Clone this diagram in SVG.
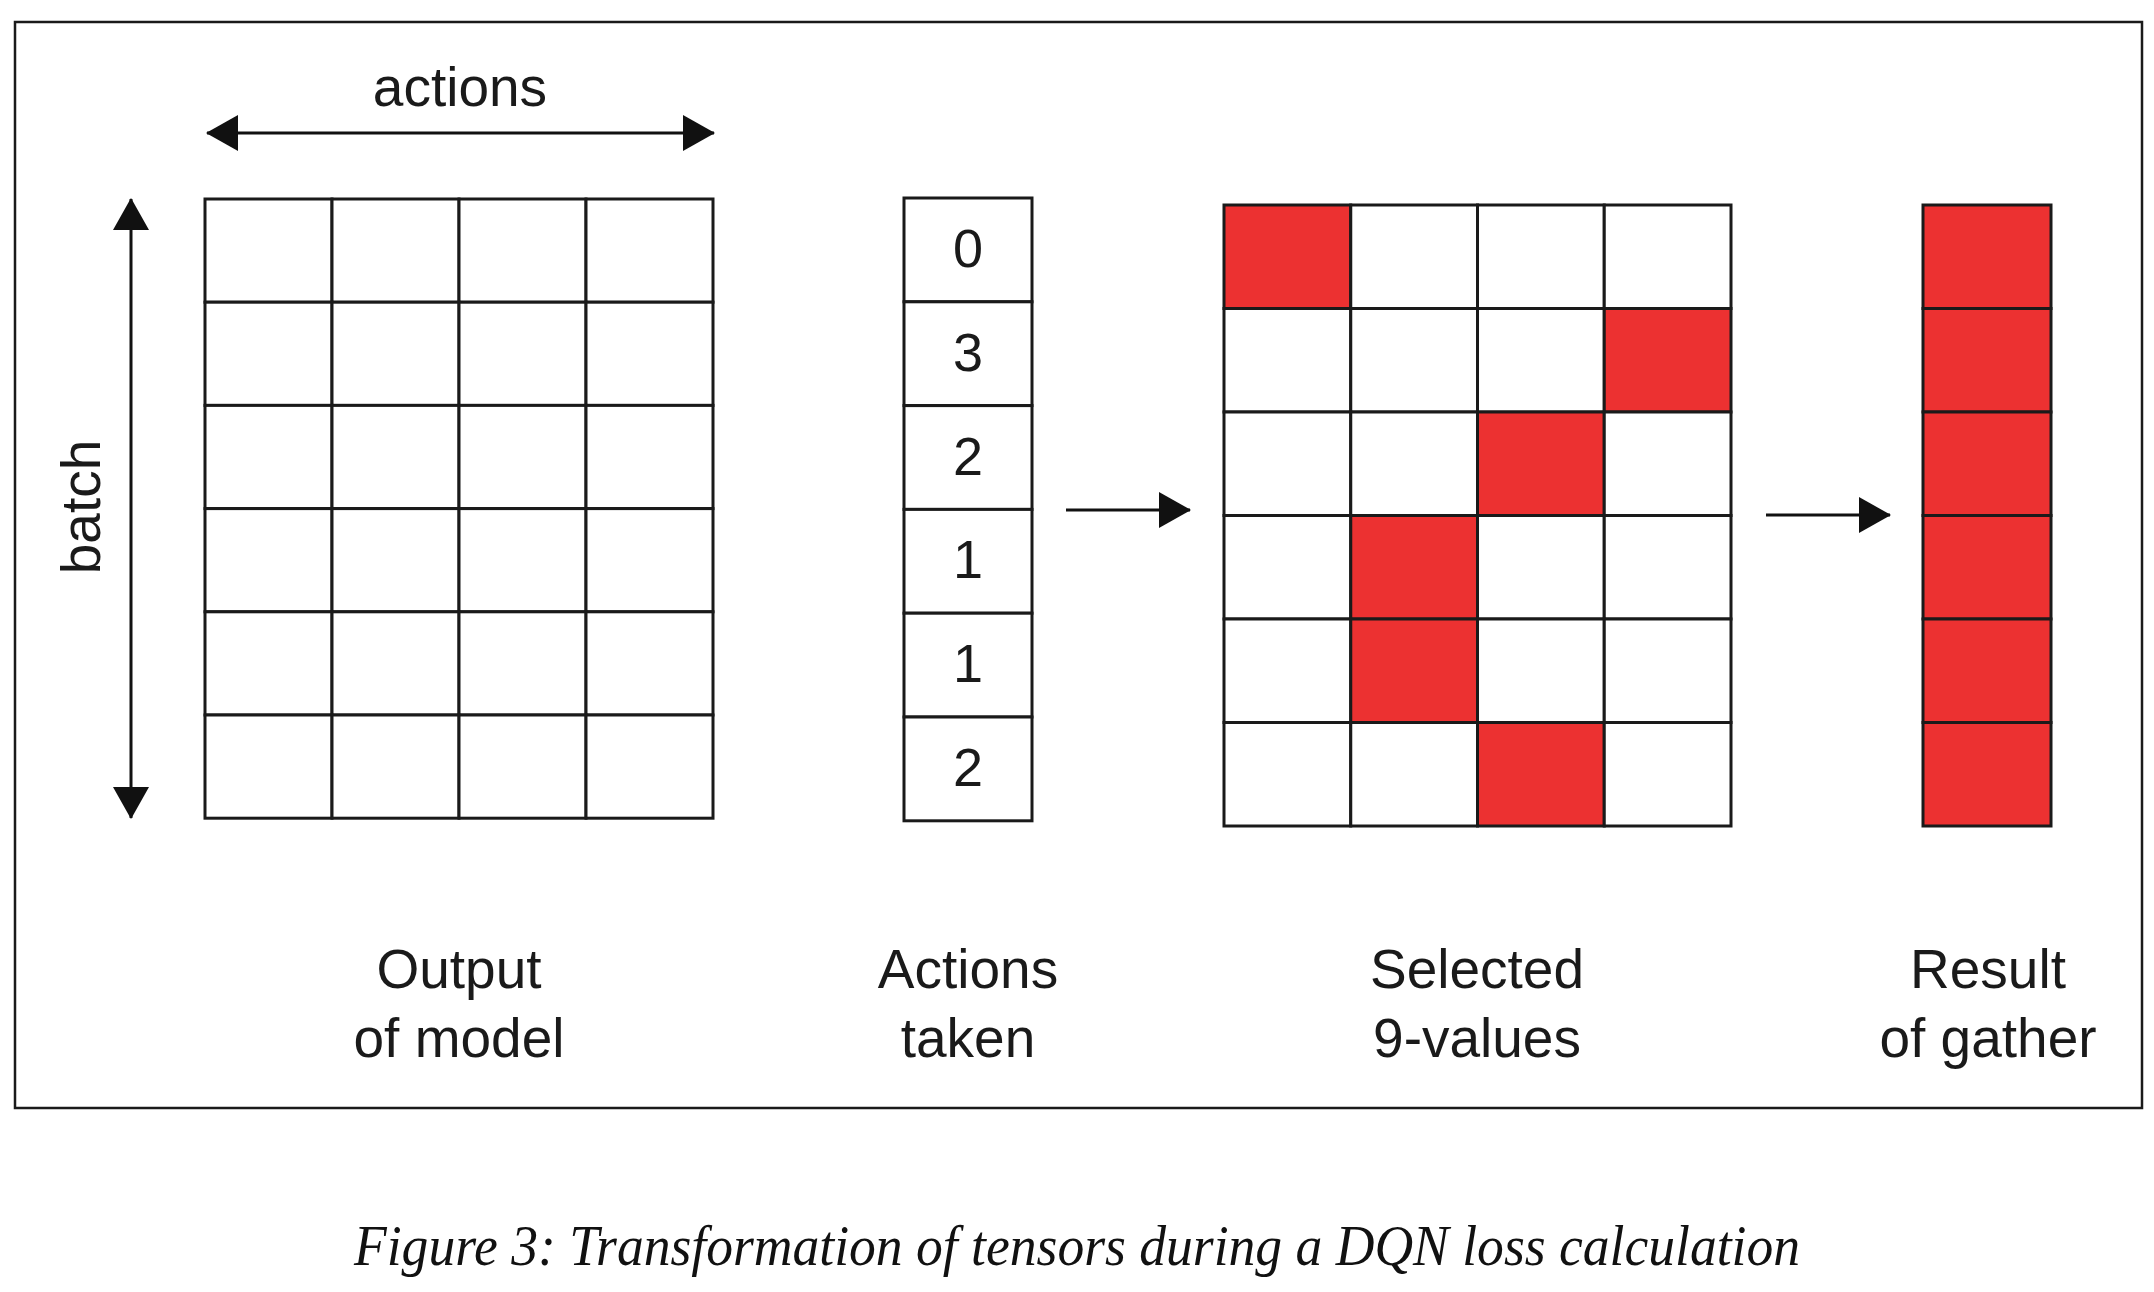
<svg xmlns="http://www.w3.org/2000/svg" width="2154" height="1292" viewBox="0 0 2154 1292">
<defs>
<style>
.cell{fill:#ffffff;stroke:#1a1a1a;stroke-width:3}
.red{fill:#ec3131;stroke:#1a1a1a;stroke-width:3}
.lbl{font-family:"Liberation Sans",Arial,sans-serif;font-size:55px;fill:#1a1a1a;text-anchor:middle}
.dig{font-family:"Liberation Sans",Arial,sans-serif;font-size:54px;fill:#1a1a1a;text-anchor:middle}
.conn{stroke:#111;stroke-width:3;fill:none}
</style>
<marker id="ah" markerUnits="userSpaceOnUse" markerWidth="32" markerHeight="36" viewBox="0 0 32 36" refX="31" refY="18" orient="auto-start-reverse">
<path d="M0,0 L32,18 L0,36 Z" fill="#111"/>
</marker>
</defs>
<rect width="2154" height="1292" fill="#ffffff"/>
<rect x="15" y="22" width="2127" height="1086" fill="none" stroke="#1a1a1a" stroke-width="2.5"/>

<g id="connectors">
<line class="conn" x1="207" y1="133" x2="714" y2="133" marker-start="url(#ah)" marker-end="url(#ah)"/>
<line class="conn" x1="131" y1="199" x2="131" y2="818" marker-start="url(#ah)" marker-end="url(#ah)"/>
<line class="conn" x1="1066" y1="510" x2="1190" y2="510" marker-end="url(#ah)"/>
<line class="conn" x1="1766" y1="515" x2="1890" y2="515" marker-end="url(#ah)"/>
</g>

<g id="axis-labels">
<text class="lbl" x="460" y="106">actions</text>
<text class="lbl" transform="translate(100,507) rotate(-90)" x="0" y="0">batch</text>
</g>

<g id="output-of-model">
<g>
<rect class="cell" x="205" y="199" width="127" height="103.2"/><rect class="cell" x="332" y="199" width="127" height="103.2"/><rect class="cell" x="459" y="199" width="127" height="103.2"/><rect class="cell" x="586" y="199" width="127" height="103.2"/>
<rect class="cell" x="205" y="302.2" width="127" height="103.2"/><rect class="cell" x="332" y="302.2" width="127" height="103.2"/><rect class="cell" x="459" y="302.2" width="127" height="103.2"/><rect class="cell" x="586" y="302.2" width="127" height="103.2"/>
<rect class="cell" x="205" y="405.4" width="127" height="103.2"/><rect class="cell" x="332" y="405.4" width="127" height="103.2"/><rect class="cell" x="459" y="405.4" width="127" height="103.2"/><rect class="cell" x="586" y="405.4" width="127" height="103.2"/>
<rect class="cell" x="205" y="508.6" width="127" height="103.2"/><rect class="cell" x="332" y="508.6" width="127" height="103.2"/><rect class="cell" x="459" y="508.6" width="127" height="103.2"/><rect class="cell" x="586" y="508.6" width="127" height="103.2"/>
<rect class="cell" x="205" y="611.8" width="127" height="103.2"/><rect class="cell" x="332" y="611.8" width="127" height="103.2"/><rect class="cell" x="459" y="611.8" width="127" height="103.2"/><rect class="cell" x="586" y="611.8" width="127" height="103.2"/>
<rect class="cell" x="205" y="715" width="127" height="103.2"/><rect class="cell" x="332" y="715" width="127" height="103.2"/><rect class="cell" x="459" y="715" width="127" height="103.2"/><rect class="cell" x="586" y="715" width="127" height="103.2"/>
</g>
<text class="lbl" x="459" y="988">Output</text>
<text class="lbl" x="459" y="1057">of model</text>
</g>

<g id="actions-taken">
<rect class="cell" x="904" y="198" width="128" height="103.8"/>
<rect class="cell" x="904" y="301.8" width="128" height="103.8"/>
<rect class="cell" x="904" y="405.6" width="128" height="103.8"/>
<rect class="cell" x="904" y="509.4" width="128" height="103.8"/>
<rect class="cell" x="904" y="613.2" width="128" height="103.8"/>
<rect class="cell" x="904" y="717" width="128" height="103.8"/>
<text class="dig" x="968" y="267">0</text>
<text class="dig" x="968" y="371">3</text>
<text class="dig" x="968" y="475">2</text>
<text class="dig" x="968" y="578">1</text>
<text class="dig" x="968" y="682">1</text>
<text class="dig" x="968" y="786">2</text>
<text class="lbl" x="968" y="988">Actions</text>
<text class="lbl" x="968" y="1057">taken</text>
</g>

<g id="selected-q-values">
<rect class="red" x="1224" y="205" width="126.75" height="103.5"/><rect class="cell" x="1350.75" y="205" width="126.75" height="103.5"/><rect class="cell" x="1477.5" y="205" width="126.75" height="103.5"/><rect class="cell" x="1604.25" y="205" width="126.75" height="103.5"/>
<rect class="cell" x="1224" y="308.5" width="126.75" height="103.5"/><rect class="cell" x="1350.75" y="308.5" width="126.75" height="103.5"/><rect class="cell" x="1477.5" y="308.5" width="126.75" height="103.5"/><rect class="red" x="1604.25" y="308.5" width="126.75" height="103.5"/>
<rect class="cell" x="1224" y="412" width="126.75" height="103.5"/><rect class="cell" x="1350.75" y="412" width="126.75" height="103.5"/><rect class="red" x="1477.5" y="412" width="126.75" height="103.5"/><rect class="cell" x="1604.25" y="412" width="126.75" height="103.5"/>
<rect class="cell" x="1224" y="515.5" width="126.75" height="103.5"/><rect class="red" x="1350.75" y="515.5" width="126.75" height="103.5"/><rect class="cell" x="1477.5" y="515.5" width="126.75" height="103.5"/><rect class="cell" x="1604.25" y="515.5" width="126.75" height="103.5"/>
<rect class="cell" x="1224" y="619" width="126.75" height="103.5"/><rect class="red" x="1350.75" y="619" width="126.75" height="103.5"/><rect class="cell" x="1477.5" y="619" width="126.75" height="103.5"/><rect class="cell" x="1604.25" y="619" width="126.75" height="103.5"/>
<rect class="cell" x="1224" y="722.5" width="126.75" height="103.5"/><rect class="cell" x="1350.75" y="722.5" width="126.75" height="103.5"/><rect class="red" x="1477.5" y="722.5" width="126.75" height="103.5"/><rect class="cell" x="1604.25" y="722.5" width="126.75" height="103.5"/>
<text class="lbl" x="1477" y="988">Selected</text>
<text class="lbl" x="1477" y="1057">9-values</text>
</g>

<g id="result-of-gather">
<rect class="red" x="1923" y="205" width="128" height="103.5"/>
<rect class="red" x="1923" y="308.5" width="128" height="103.5"/>
<rect class="red" x="1923" y="412" width="128" height="103.5"/>
<rect class="red" x="1923" y="515.5" width="128" height="103.5"/>
<rect class="red" x="1923" y="619" width="128" height="103.5"/>
<rect class="red" x="1923" y="722.5" width="128" height="103.5"/>
<text class="lbl" x="1988" y="988">Result</text>
<text class="lbl" x="1988" y="1057">of gather</text>
</g>

<text id="caption" x="1077" y="1265" font-family="'Liberation Serif','Times New Roman',serif" font-style="italic" font-size="58" fill="#111" text-anchor="middle" textLength="1446" lengthAdjust="spacingAndGlyphs">Figure 3: Transformation of tensors during a DQN loss calculation</text>
</svg>
